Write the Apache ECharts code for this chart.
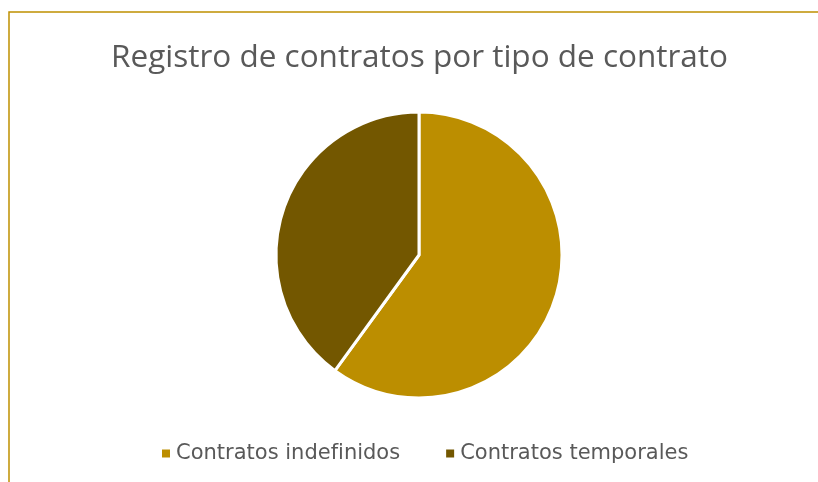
<!DOCTYPE html>
<html lang="es">
<head>
    <meta charset="UTF-8"/>
    <title>Registro de contratos</title>
    <script src="https://cdn.jsdelivr.net/npm/echarts@6/dist/echarts.min.js"></script>
    <style>
        html, body { margin:0; padding:0; background:#fff; }
        #main { width:818px; height:482px; }
    </style>
</head>
<body>
<div id="main"></div>
<script type="text/javascript">
    var categories = ['Contratos indefinidos', 'Contratos temporales'];
    var values = [60, 40];
    var colors = ['#BC8E00', '#735700'];

    var myChart = echarts.init(document.getElementById('main'));

    var pieData = [];
    for (var i = 0; i < categories.length; i++) {
        pieData.push({ name: categories[i], value: values[i], itemStyle: { color: colors[i] } });
    }

    var option = {
        backgroundColor: '#fff',
        animation: false,
        title: {
            text: 'Registro de contratos por tipo de contrato',
            left: 106,
            top: 37,
            textStyle: { fontFamily: 'Open Sans', fontSize: 31.5, fontWeight: 'normal', color: '#595959' }
        },
        legend: {
            top: 438,
            left: 155,
            icon: 'rect',
            itemWidth: 10,
            itemHeight: 10,
            itemGap: 44,
            textStyle: { fontFamily: 'DejaVu Sans', fontSize: 21, color: '#595959' },
            data: categories
        },
        graphic: [{
            type: 'polyline',
            shape: { points: [[9, 482], [9, 12], [818, 12]] },
            style: { stroke: '#BF9000', lineWidth: 1.5, fill: null }
        }],
        series: [{
            type: 'pie',
            center: [419, 255],
            radius: 143,
            startAngle: 90,
            clockwise: true,
            label: { show: false },
            labelLine: { show: false },
            itemStyle: { borderColor: '#fff', borderWidth: 3 },
            emphasis: { disabled: true },
            data: pieData
        }]
    };

    myChart.setOption(option);
</script>
</body>
</html>
